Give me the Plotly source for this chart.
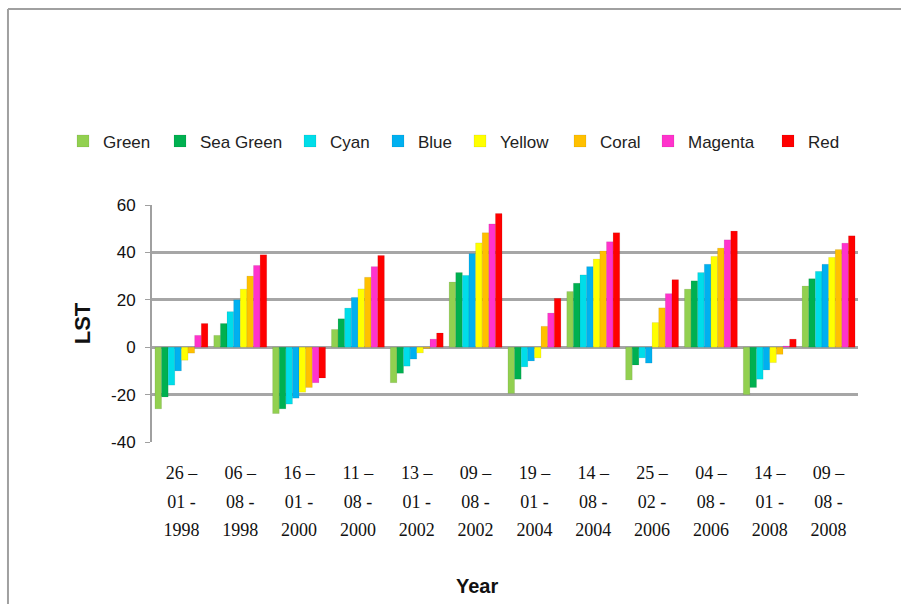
import plotly.graph_objects as go

dates = [["26 –", "01 -", "1998"], ["06 –", "08 -", "1998"], ["16 –", "01 -", "2000"],
         ["11 –", "08 -", "2000"], ["13 –", "01 -", "2002"], ["09 –", "08 -", "2002"],
         ["19 –", "01 -", "2004"], ["14 –", "08 -", "2004"], ["25 –", "02 -", "2006"],
         ["04 –", "08 -", "2006"], ["14 –", "01 -", "2008"], ["09 –", "08 -", "2008"]]

green     = [-26, 5, -28, 7.5, -15, 27.5, -19.5, 23.5, -13.8, 24.5, -20, 25.8]
sea_green = [-21, 10, -26, 12, -11, 31.5, -13.5, 27, -7.5, 28, -17, 28.9]
cyan      = [-16, 15, -24, 16.5, -8, 30.3, -8.3, 30.5, -4.5, 31.5, -13.5, 32]
blue      = [-10, 20, -21.5, 21, -5, 39.5, -5.8, 34, -6.7, 35, -9.6, 35]
yellow    = [-5.5, 24.5, -19, 24.6, -2.4, 44, -4.5, 37.2, 10.4, 38.3, -6.5, 37.9]
coral     = [-2.5, 30, -17, 29.5, -0.5, 48.3, 8.8, 40.6, 16.6, 41.8, -3, 41.2]
magenta   = [5, 34.5, -15, 34, 3.4, 52, 14.4, 44.5, 22.6, 45.3, 0.5, 43.9]
red       = [10, 39, -13, 38.7, 6, 56.4, 20.6, 48.3, 28.5, 49, 3.4, 47]

y_ticks = [-40, -20, 0, 20, 40, 60]

series = [
    ("Green", green, "#92D050"),
    ("Sea Green", sea_green, "#00B050"),
    ("Cyan", cyan, "#00DDE9"),
    ("Blue", blue, "#00B0F0"),
    ("Yellow", yellow, "#FFFF00"),
    ("Coral", coral, "#FFC000"),
    ("Magenta", magenta, "#FF33CC"),
    ("Red", red, "#FF0000"),
]

# left edge (px) of each legend entry along the single legend row
legend_left = [63, 160, 290, 378, 460, 560, 648, 768]

cats = ["-".join(d) for d in dates]
# category labels: three stacked lines, glyphs smaller than the line pitch
cat_text = ["<br>".join(f"<span style='font-size:18px'>{p}</span>" for p in d) for d in dates]

fig = go.Figure()
legend_layout = {}
for i, (name, vals, col) in enumerate(series):
    key = "legend" if i == 0 else f"legend{i + 1}"
    fig.add_trace(go.Bar(
        name=name, x=cats, y=vals, legend=key,
        marker=dict(color=col, line=dict(color="rgba(0,0,0,0.15)", width=0.5)),
    ))
    legend_layout[key] = dict(
        orientation="h", xanchor="left", yanchor="middle",
        xref="container", yref="container",
        x=legend_left[i] / 901, y=0.766,
        font=dict(family="Liberation Sans", size=17, color="#222"),
        bgcolor="rgba(0,0,0,0)",
    )

# outer chart frame (top and left edges)
frame = dict(type="line", xref="paper", yref="paper",
             line=dict(color="#A0A0A0", width=2))
fig.add_shape(**frame, x0=-0.204, x1=1.1, y0=1.827, y1=1.827)
fig.add_shape(**frame, x0=-0.204, x1=-0.204, y0=1.827, y1=-0.8)

fig.add_annotation(text="<b>Year</b>", xref="paper", yref="paper",
                   x=0.46, y=-0.662, showarrow=False,
                   font=dict(family="Liberation Sans", size=20, color="#111"))

fig.update_layout(
    width=901, height=604,
    margin=dict(l=152, r=43, t=205, b=162),
    paper_bgcolor="white", plot_bgcolor="white",
    barmode="group", bargap=0.1, bargroupgap=0,
    showlegend=True,
    **legend_layout,
    xaxis=dict(
        tickmode="array", tickvals=cats, ticktext=cat_text,
        tickfont=dict(family="Liberation Serif", size=22, color="#111"),
        showline=False, ticks="", showgrid=False, ticklabelstandoff=14,
    ),
    yaxis=dict(
        range=[-40, 60], tickmode="array", tickvals=y_ticks,
        ticktext=[str(v) for v in y_ticks],
        tickfont=dict(family="Liberation Sans", size=17, color="#111"),
        showline=True, linecolor="#A0A0A0", linewidth=2,
        ticks="outside", ticklen=5, tickcolor="#A0A0A0", ticklabelstandoff=6,
        showgrid=True, gridcolor="#A6A6A6", gridwidth=2.5,
        zeroline=True, zerolinecolor="#A6A6A6", zerolinewidth=2.5,
        title=dict(text="<b>LST</b>", font=dict(family="Liberation Sans", size=22, color="#111"),
                   standoff=14),
    ),
)

fig.write_html("out.html")
